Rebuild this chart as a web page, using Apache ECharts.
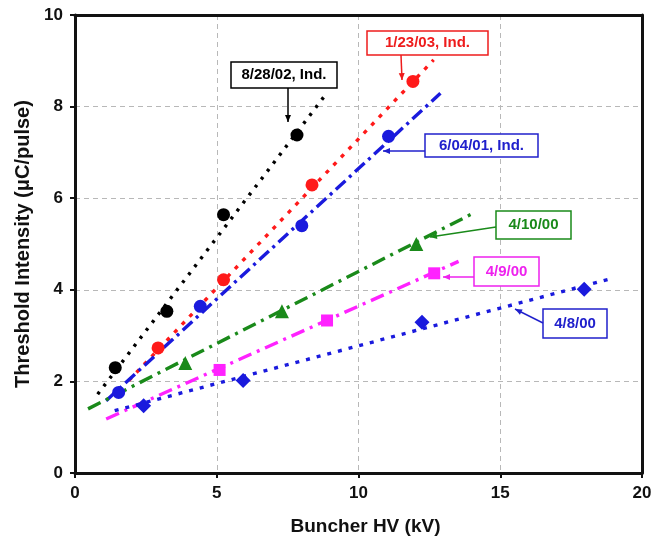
<!DOCTYPE html>
<html>
<head>
<meta charset="utf-8">
<script src="https://cdn.jsdelivr.net/npm/echarts@6/dist/echarts.min.js"></script>
<style>html,body{margin:0;padding:0;background:#fff;}#c{width:665px;height:545px;}</style>
</head>
<body>
<div id="c"></div>
<script>
// ---- data ----
const xTicks = [0, 5, 10, 15, 20];
const yTicks = [0, 2, 4, 6, 8, 10];
const seriesNames = ['8/28/02, Ind.', '1/23/03, Ind.', '6/04/01, Ind.', '4/10/00', '4/9/00', '4/8/00'];
// measured points [kV, µC/pulse]
const pts_082802 = [[1.42, 2.30], [3.24, 3.53], [5.24, 5.64], [7.83, 7.38]];
const pts_012303 = [[2.93, 2.73], [5.24, 4.22], [8.36, 6.29], [11.92, 8.55]];
const pts_060401 = [[1.54, 1.76], [4.42, 3.64], [8.00, 5.40], [11.06, 7.35]];
const pts_041000 = [[3.89, 2.40], [7.30, 3.53], [12.04, 5.00]];
const pts_040900 = [[5.10, 2.25], [8.89, 3.33], [12.67, 4.36]];
const pts_040800 = [[2.42, 1.47], [5.93, 2.02], [12.24, 3.29], [17.96, 4.01]];
// linear-fit lines (start, end)
const fit_082802 = [[0.80, 1.72], [8.79, 8.22]];
const fit_012303 = [[1.90, 2.02], [12.65, 9.02]];
const fit_060401 = [[1.10, 1.58], [12.89, 8.29]];
const fit_041000 = [[0.46, 1.40], [14.04, 5.67]];
const fit_040900 = [[1.10, 1.18], [13.53, 4.62]];
const fit_040800 = [[1.40, 1.36], [18.94, 4.25]];

const colors = ['#000000', '#ff1a1a', '#1a1add', '#1a8a1a', '#ff22ff', '#1a1add'];
const symbols = ['circle', 'circle', 'circle', 'triangle', 'rect', 'diamond'];
const symSizes = [13, 13, 13, 14, 12, 15];
const dashes = [[3, 7], [4, 7], [13, 5, 3, 5], [14, 6, 3, 6], [14, 6, 3, 6], [4, 7]];
const allPts = [pts_082802, pts_012303, pts_060401, pts_041000, pts_040900, pts_040800];
const allFits = [fit_082802, fit_012303, fit_060401, fit_041000, fit_040900, fit_040800];

const series = [];
allFits.forEach((f, i) => {
  series.push({
    type: 'line', name: seriesNames[i] + ' fit', data: f, symbol: 'none', silent: true,
    lineStyle: { color: colors[i], width: 3.4, type: dashes[i], cap: 'butt' }, z: 2
  });
});
allPts.forEach((p, i) => {
  series.push({
    type: 'scatter', name: seriesNames[i], data: p, symbol: symbols[i], symbolSize: symSizes[i],
    itemStyle: { color: colors[i], opacity: 1 }, z: 3
  });
});

// annotation call-outs (pixel layout)
const notes = [
  { text: seriesNames[0], color: '#000000', box: [231, 62, 106, 26], arrow: [[288, 88], [288, 122]] },
  { text: seriesNames[1], color: '#ee1c1c', box: [367, 31, 121, 24], arrow: [[401, 55], [402, 80]] },
  { text: seriesNames[2], color: '#2020cc', box: [425, 134, 113, 23], arrow: [[425, 151], [383, 151]] },
  { text: seriesNames[3], color: '#1a8a1a', box: [496, 211, 75, 28], arrow: [[496, 227], [430, 237]] },
  { text: seriesNames[4], color: '#ee22ee', box: [474, 257, 65, 29], arrow: [[474, 277], [443, 277]] },
  { text: seriesNames[5], color: '#2020cc', box: [543, 309, 64, 29], arrow: [[543, 323], [515, 309]] }
];
const graphic = [];
notes.forEach(n => {
  const [bx, by, bw, bh] = n.box;
  graphic.push({ type: 'rect', shape: { x: bx, y: by, width: bw, height: bh },
    style: { fill: '#fff', stroke: n.color, lineWidth: 1.5 }, z: 10 });
  graphic.push({ type: 'text', x: bx + bw / 2, y: by + bh / 2,
    style: { text: n.text, fill: n.color, font: 'bold 15px "Liberation Sans", Arial, sans-serif',
      align: 'center', verticalAlign: 'middle' }, z: 11 });
  const [a, b] = n.arrow;
  graphic.push({ type: 'line', shape: { x1: a[0], y1: a[1], x2: b[0], y2: b[1] },
    style: { stroke: n.color, lineWidth: 1.5 }, z: 10 });
  const ang = Math.atan2(b[1] - a[1], b[0] - a[0]);
  const L = 7, W = 3;
  const p1 = [b[0] - L * Math.cos(ang) + W * Math.sin(ang), b[1] - L * Math.sin(ang) - W * Math.cos(ang)];
  const p2 = [b[0] - L * Math.cos(ang) - W * Math.sin(ang), b[1] - L * Math.sin(ang) + W * Math.cos(ang)];
  graphic.push({ type: 'polygon', shape: { points: [b, p1, p2] }, style: { fill: n.color }, z: 10 });
});

const ff = '"Liberation Sans", Arial, sans-serif';
const axisFont = { fontFamily: ff, fontWeight: 'bold', fontSize: 17, color: '#111' };
const grid = { color: '#b8b8b8', type: [5, 4], width: 1 };
const frameAxis = {
  type: 'value', axisLine: { show: true, onZero: false, lineStyle: { color: '#111', width: 3 } },
  axisTick: { show: false }, axisLabel: { show: false }, splitLine: { show: false }
};
const chart = echarts.init(document.getElementById('c'), null, { renderer: 'canvas' });
chart.setOption({
  animation: false,
  backgroundColor: '#fff',
  grid: { left: 75, right: 23, top: 15, bottom: 72 },
  xAxis: [{
    type: 'value', min: xTicks[0], max: xTicks[xTicks.length - 1], interval: 5,
    name: 'Buncher HV (kV)', nameLocation: 'middle', nameGap: 44,
    nameTextStyle: { fontFamily: ff, fontWeight: 'bold', fontSize: 19, color: '#111', padding: [0, 0, 0, 14] },
    axisLine: { show: true, onZero: false, lineStyle: { color: '#111', width: 3 } },
    axisTick: { show: true, length: 5, lineStyle: { color: '#111', width: 2 } },
    axisLabel: Object.assign({ margin: 12, showMaxLabel: true }, axisFont),
    splitLine: { show: true, lineStyle: grid }
  }, Object.assign({ position: 'top', min: 0, max: 20 }, frameAxis)],
  yAxis: [{
    type: 'value', min: yTicks[0], max: yTicks[yTicks.length - 1], interval: 2,
    name: 'Threshold Intensity (μC/pulse)', nameLocation: 'middle', nameGap: 42,
    nameTextStyle: { fontFamily: ff, fontWeight: 'bold', fontSize: 20, color: '#111' },
    axisLine: { show: true, onZero: false, lineStyle: { color: '#111', width: 3 } },
    axisTick: { show: true, length: 5, lineStyle: { color: '#111', width: 2 } },
    axisLabel: Object.assign({ margin: 12 }, axisFont),
    splitLine: { show: true, lineStyle: grid }
  }, Object.assign({ position: 'right', min: 0, max: 10 }, frameAxis)],
  series: series,
  graphic: graphic
});
</script>
</body>
</html>
